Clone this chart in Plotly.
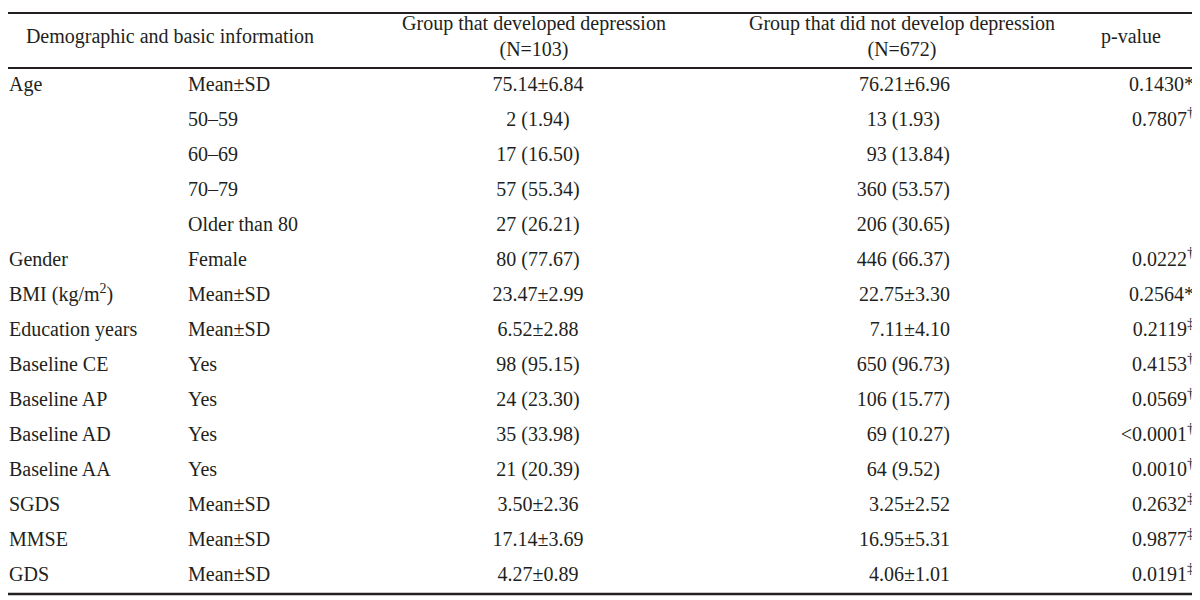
import plotly.graph_objects as go

# ---- data ----
variables = ["Age", "", "", "", "", "Gender", "BMI (kg/m<sup>2</sup>)", "Education years",
             "Baseline CE", "Baseline AP", "Baseline AD", "Baseline AA", "SGDS", "MMSE", "GDS"]
categories = ["Mean±SD", "50–59", "60–69", "70–79", "Older than 80", "Female", "Mean±SD",
              "Mean±SD", "Yes", "Yes", "Yes", "Yes", "Mean±SD", "Mean±SD", "Mean±SD"]
developed = ["75.14±6.84", "2 (1.94)", "17 (16.50)", "57 (55.34)", "27 (26.21)", "80 (77.67)",
             "23.47±2.99", "6.52±2.88", "98 (95.15)", "24 (23.30)", "35 (33.98)", "21 (20.39)",
             "3.50±2.36", "17.14±3.69", "4.27±0.89"]
not_developed = ["76.21±6.96", "13 (1.93)\u2007", "93 (13.84)", "360 (53.57)", "206 (30.65)",
                 "446 (66.37)", "22.75±3.30", "7.11±4.10", "650 (96.73)", "106 (15.77)",
                 "69 (10.27)", "64 (9.52)\u2007", "3.25±2.52", "16.95±5.31", "4.06±1.01"]
p_values = ["0.1430*", "0.7807<sup>†</sup>", "", "", "", "0.0222<sup>†</sup>", "0.2564*",
            "0.2119<sup>‡</sup>", "0.4153<sup>†</sup>", "0.0569<sup>†</sup>", "<0.0001<sup>†</sup>",
            "0.0010<sup>†</sup>", "0.2632<sup>‡</sup>", "0.9877<sup>‡</sup>", "0.0191<sup>‡</sup>"]
headers = ["Demographic and basic information",
           "Group that developed depression<br>(N=103)",
           "Group that did not develop depression<br>(N=672)",
           "p-value"]

# ---- layout constants ----
INK = "#231f20"
FONT = "Liberation Serif"
FS = 20
rows = list(range(len(categories)))

# page body has an 8px margin: the figure starts at screen (8, 8)
OFF = 8
ROW0, PITCH = 85.5, 35.07  # screen px of first row centre, row pitch


def row_of(px):
    return (px - ROW0) / PITCH


fig = go.Figure()


def add_col(x, texts, pos):
    ys = [r for r, t in zip(rows, texts) if t]
    ts = [t for t in texts if t]
    fig.add_trace(go.Scatter(x=[x] * len(ys), y=ys, text=ts, mode="text",
                             textposition=pos, hoverinfo="skip", showlegend=False,
                             cliponaxis=False,
                             textfont=dict(family=FONT, size=FS, color=INK)))


add_col(9, variables, "middle right")
add_col(188, categories, "middle right")
add_col(538, developed, "middle center")
add_col(950, not_developed, "middle left")
add_col(1194, p_values, "middle left")

# header
hx = [170, 534, 902, 1131]
hy = [row_of(38)] * 4
fig.add_trace(go.Scatter(x=hx, y=hy, text=headers, mode="text", textposition="middle center",
                         hoverinfo="skip", showlegend=False, cliponaxis=False,
                         textfont=dict(family=FONT, size=FS, color=INK)))

# rules
for px, w in [(13, 2), (68, 2), (594, 2.5)]:
    fig.add_shape(type="line", x0=OFF, x1=1208, y0=row_of(px), y1=row_of(px),
                  xref="x", yref="y", line=dict(color=INK, width=w))

fig.update_layout(
    width=1200, height=600, margin=dict(l=0, r=0, t=0, b=0, pad=0),
    plot_bgcolor="white", paper_bgcolor="white",
    xaxis=dict(range=[OFF, 1200 + OFF], visible=False, fixedrange=True),
    yaxis=dict(range=[row_of(600 + OFF), row_of(OFF)], visible=False, fixedrange=True),
)

fig.write_html("out.html")
